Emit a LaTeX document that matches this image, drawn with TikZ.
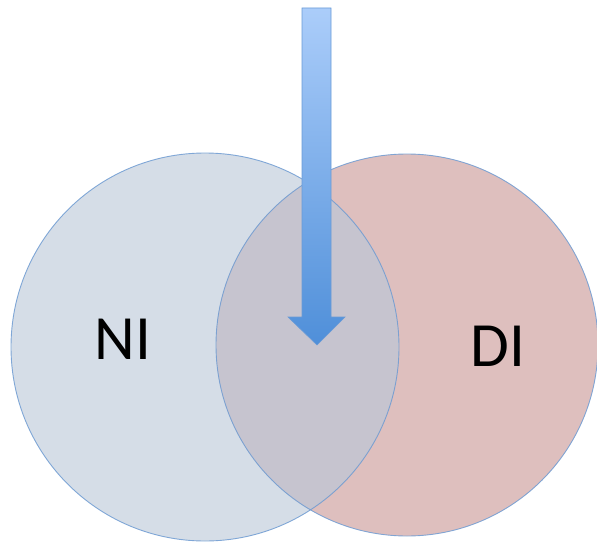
\documentclass[tikz,border=0pt]{standalone}
\usepackage{fontspec}
\setmainfont{Carlito}
\definecolor{leftfill}{HTML}{D5DDE7}
\definecolor{rightfill}{HTML}{DEBFBE}
\definecolor{midfill}{HTML}{C6C4CF}
\definecolor{ringline}{HTML}{6E9BD2}
\definecolor{arrowtop}{HTML}{ABCDFA}
\definecolor{arrowbot}{HTML}{4F8FD9}
\definecolor{arrowline}{HTML}{6A9BD6}
\tikzset{
  ring/.style={draw=ringline, line width=0.9pt},
  setlabel/.style={font=\fontsize{63}{63}\selectfont, text=black, inner sep=0pt, anchor=base}
}
\begin{document}
\begin{tikzpicture}[x=1pt,y=-1pt]
\useasboundingbox (0,0) rectangle (597,543);
\coordinate (cl) at (205,347);
\coordinate (cr) at (407,345);
\fill[leftfill] (cl) circle[radius=194];
\fill[rightfill] (cr) circle[radius=191];
\begin{scope}
  \clip (cl) circle[radius=194];
  \fill[midfill] (cr) circle[radius=191];
\end{scope}
\draw[ring, draw opacity=0.85] (cl) circle[radius=194];
\draw[ring, draw opacity=0.85] (cr) circle[radius=191];
\node[setlabel] (ni) at (123,359) {NI};
\node[setlabel] (di) at (498,366) {DI};
\shade[top color=arrowtop, bottom color=arrowbot, draw=arrowline, line width=0.6pt]
  (302,8) -- (331,8) -- (331,317) -- (345,317) -- (317,345) -- (288,317) -- (302,317) -- cycle;
\end{tikzpicture}
\end{document}
